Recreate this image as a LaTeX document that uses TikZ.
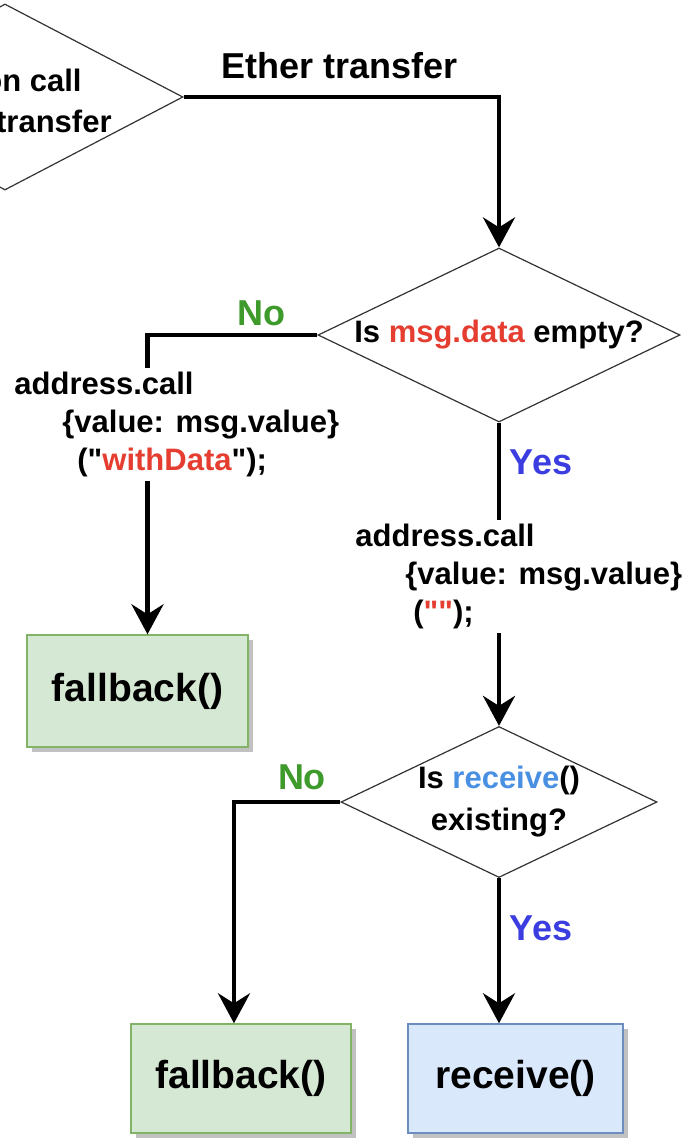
\documentclass[tikz,border=0pt]{standalone}
\usepackage{fontspec}
\setmainfont{Liberation Sans}
\usepackage{tikz}
\usetikzlibrary{arrows.meta,positioning,calc,shapes.geometric,shadows}
\definecolor{codered}{HTML}{E53E30}
\definecolor{recvblue}{HTML}{4A90E2}
\definecolor{nogreen}{HTML}{3D9A2B}
\definecolor{yesblue}{HTML}{3B3DE0}
\definecolor{fbfill}{HTML}{D5E8D4}
\definecolor{fbline}{HTML}{82B366}
\definecolor{rcfill}{HTML}{DAE8FC}
\definecolor{rcline}{HTML}{6C8EBF}
\newcommand{\codefont}{\fontsize{15.5}{19}\selectfont\bfseries}
\newcommand{\lblfont}{\fontsize{18}{21}\selectfont\bfseries}
\newcommand{\boxfont}{\fontsize{19.5}{23}\selectfont\bfseries}
\newcommand{\qq}{\textquotedbl}
\tikzstyle{decision}=[diamond,draw=black!80,line width=0.6pt,fill=white,aspect=2.08,inner sep=0pt,align=center,font=\codefont]
\tikzstyle{funcbox}=[rectangle,draw,line width=0.7pt,inner sep=0pt,font=\boxfont,drop shadow={shadow xshift=2.5pt,shadow yshift=-2.5pt,fill=black!30,opacity=0.8}]
\tikzstyle{flow}=[line width=2.2pt,-{Stealth[length=15pt,width=16pt,inset=5pt]}]
\tikzstyle{codelabel}=[fill=white,inner sep=2pt,align=left,font=\codefont]
\tikzstyle{answer}=[font=\lblfont]

\begin{document}
\begin{tikzpicture}[x=0.5pt,y=-0.5pt]
\useasboundingbox (0,0) rectangle (686,1142);
\clip (0,0) rectangle (686,1142);
% decisions
\node[decision,minimum width=178pt,minimum height=93pt] (src) at (5,97) {};
\node[font=\codefont,inner sep=0pt,anchor=east] (srcA) at (82,80) {on call};
\node[font=\codefont,inner sep=0pt,anchor=east] (srcB) at (112,121) {transfer};
\node[decision,minimum width=181pt,minimum height=87pt] (d1) at (499,335)
  {Is \textcolor{codered}{msg.data} empty?};
\node[decision,minimum width=158pt,minimum height=75.5pt] (d2) at (499,802)
  {Is \textcolor{recvblue}{receive}()\\[2pt]existing?};
% functions
\node[funcbox,fill=fbfill,draw=fbline,minimum width=110.5pt,minimum height=56pt] (fb1) at (137.5,691) {fallback()};
\node[funcbox,fill=fbfill,draw=fbline,minimum width=110pt,minimum height=54.5pt] (fb2) at (241,1078.5) {fallback()};
\node[funcbox,fill=rcfill,draw=rcline,minimum width=107.5pt,minimum height=54.5pt] (recv) at (515.5,1078.5) {receive()};
% connectors
\draw[flow] (src.east) -| (d1.north);
\draw[flow] (d1.west) -| ($(fb1.north)+(10,0)$);
\draw[flow] (d1.south) -- (d2.north);
\draw[flow] (d2.west) -| ($(fb2.north)+(-7,0)$);
\draw[flow] (d2.south) -- (d2.south |- recv.north);
% labels
\node[answer] (eth) at (340,66) {Ether transfer};
\node[answer,text=nogreen] (no1) at (261,313) {No};
\node[answer,text=yesblue] (yes1) at (541,462) {Yes};
\node[answer,text=nogreen] (no2) at (302,777) {No};
\node[answer,text=yesblue] (yes2) at (541,928) {Yes};
\node[codelabel,anchor=north west] (callL) at (10,368)
  {address.call\\\hspace*{24pt}\{value: msg.value\}\\\hspace*{31.5pt}(\qq\textcolor{codered}{withData}\qq);};
\node[codelabel,anchor=north west] (callR) at (351,520)
  {address.call\\\hspace*{25pt}\{value: msg.value\}\\\hspace*{29pt}(\textcolor{codered}{\qq\qq});};
\end{tikzpicture}
\end{document}
